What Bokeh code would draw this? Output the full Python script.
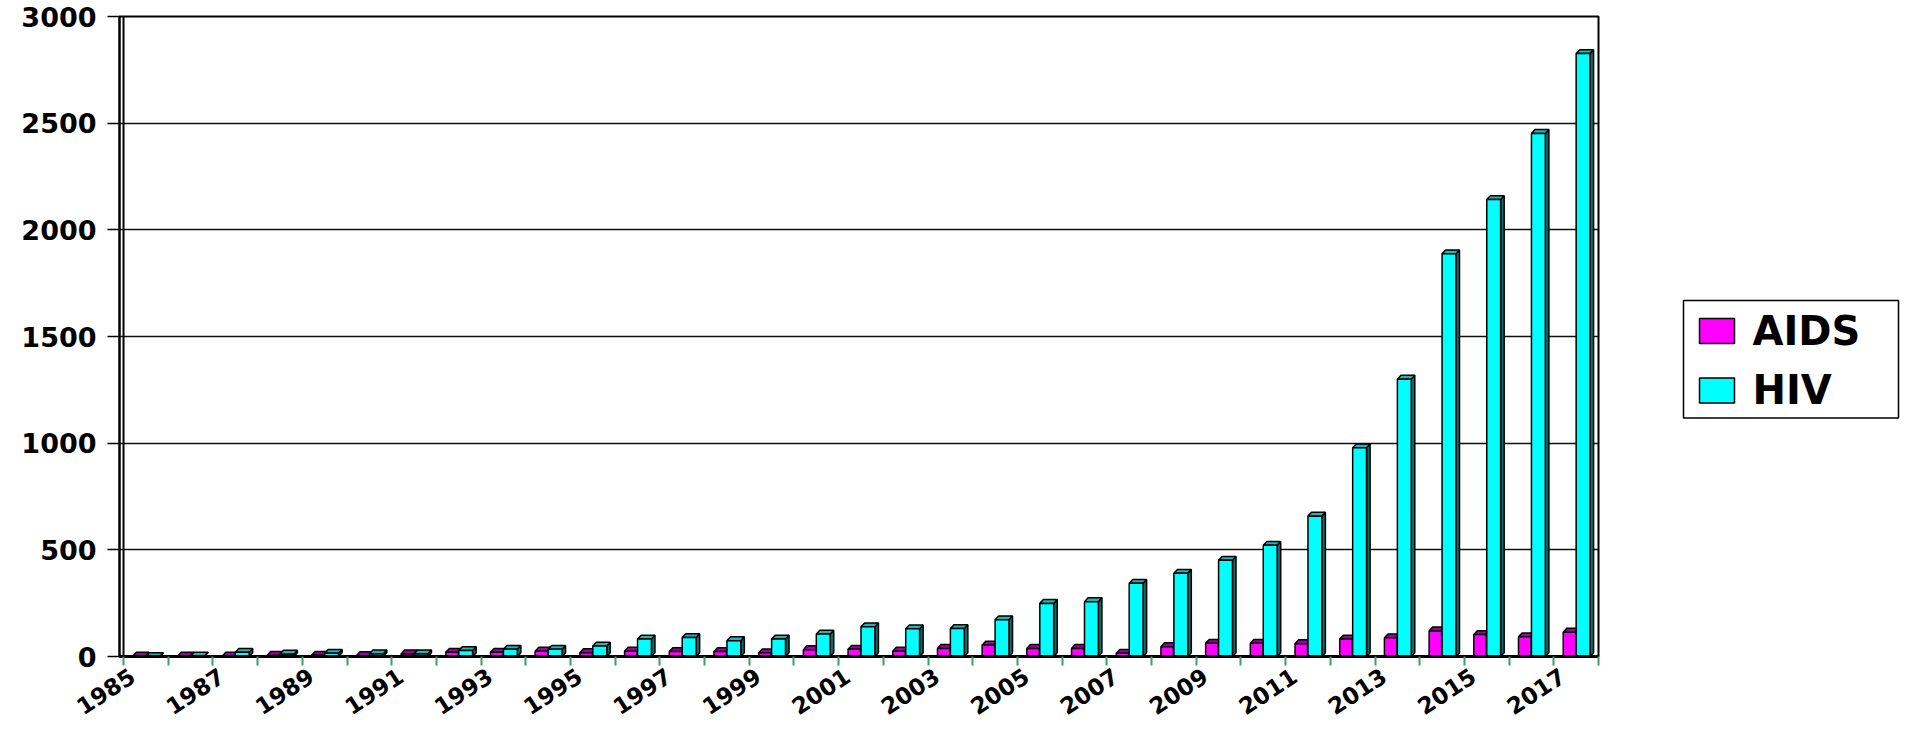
import numpy as np
from bokeh.plotting import figure
from bokeh.layouts import row
from bokeh.models import Range1d, FixedTicker, Span
from bokeh.core.properties import value
from bokeh.embed import file_html
from bokeh.resources import INLINE

years = list(range(1985, 2018))
aids = [2, 2, 2, 5, 6, 4, 12, 20, 20, 25, 18, 25, 23, 23, 17, 32, 34, 25, 38, 54,
        38, 38, 15, 46, 62, 62, 60, 82, 88, 120, 103, 92, 114]
hiv = [0, 2, 20, 11, 15, 12, 12, 28, 34, 34, 49, 82, 89, 74, 82, 105, 139, 130, 131, 172,
       249, 257, 343, 390, 451, 521, 658, 978, 1300, 1888, 2142, 2452, 2826]
y_ticks = [0, 500, 1000, 1500, 2000, 2500, 3000]
series_names = ["AIDS", "HIV"]

FONT = "DejaVu Sans"
H = 725
W_MAIN, W_LEG = 1600, 300
B_TOP, B_BOTTOM = 16, 62

MAG = ("#FF00FF", "#A000A0", "#700070")
CYA = ("#00FFFF", "#22B4B4", "#0D6B6B")

p = figure(width=W_MAIN, height=H, output_backend="svg", toolbar_location=None,
           x_range=Range1d(-0.59, 32.5), y_range=Range1d(0, 3000),
           min_border_left=119, min_border_right=2, min_border_top=B_TOP, min_border_bottom=B_BOTTOM)
p.background_fill_color = "white"
p.border_fill_color = "white"
p.outline_line_color = "black"
p.outline_line_width = 2

idx = np.arange(len(years))
BAR_W_A = 0.28
BAR_W_H = 0.31
DX = 0.08
DY = 18.0


def draw(values, x0, width, colors):
    face, cap, side = colors
    v = np.array(values, dtype=float)
    x1 = x0 + width
    side_xs = [[a, a + DX, a + DX, a] for a in x1]
    side_ys = [[0, DY, h + DY, h] for h in v]
    cap_xs = [[a, b, b + DX, a + DX] for a, b in zip(x0, x1)]
    cap_ys = [[h, h, h + DY, h + DY] for h in v]
    p.patches(side_xs, side_ys, fill_color=side, line_color="black", line_width=1.5)
    p.patches(cap_xs, cap_ys, fill_color=cap, line_color="black", line_width=1.5)
    return p.quad(left=x0, right=x1, bottom=0, top=v, fill_color=face,
                  line_color="black", line_width=1.5)


draw(aids, idx - 0.29, BAR_W_A, MAG)
draw(hiv, idx + 0.0, BAR_W_H, CYA)

p.add_layout(Span(location=-0.5, dimension="height", line_color="black", line_width=2))

# grid
p.xgrid.visible = False
p.ygrid.ticker = FixedTicker(ticks=y_ticks)
p.ygrid.grid_line_color = "#111111"
p.ygrid.grid_line_width = 1.5

# y axis
p.yaxis.ticker = FixedTicker(ticks=y_ticks)
p.yaxis.axis_line_color = "black"
p.yaxis.axis_line_width = 2
p.yaxis.major_tick_out = 12
p.yaxis.major_tick_in = 0
p.yaxis.major_tick_line_width = 1.5
p.yaxis.major_tick_line_color = "black"
p.yaxis.minor_tick_line_color = None
p.yaxis.major_label_standoff = 11
p.yaxis.major_label_text_font = FONT
p.yaxis.major_label_text_font_style = "bold"
p.yaxis.major_label_text_font_size = "27px"
p.yaxis.major_label_text_color = "black"

# x axis
label_pos = [float(i) - 0.3 for i in idx[::2]]
boundaries = [float(i) - 0.5 for i in range(len(years) + 1)]
p.xaxis.ticker = FixedTicker(ticks=label_pos, minor_ticks=boundaries)
p.xaxis.major_label_overrides = {pos: str(years[i]) for pos, i in zip(label_pos, idx[::2])}
p.xaxis.axis_line_color = "black"
p.xaxis.axis_line_width = 3
p.xaxis.major_tick_line_color = None
p.xaxis.major_tick_out = 0
p.xaxis.major_tick_in = 0
p.xaxis.minor_tick_line_color = "#3A9D6E"
p.xaxis.minor_tick_line_width = 2
p.xaxis.minor_tick_out = 9
p.xaxis.minor_tick_in = 0
p.xaxis.major_label_orientation = 0.58
p.xaxis.major_label_standoff = 8
p.xaxis.major_label_text_font = FONT
p.xaxis.major_label_text_font_style = "bold"
p.xaxis.major_label_text_font_size = "23px"
p.xaxis.major_label_text_color = "black"

# legend panel: a small figure in pixel units, same vertical borders as the plot
FH = H - B_TOP - B_BOTTOM
q = figure(width=W_LEG, height=H, output_backend="svg", toolbar_location=None,
           x_range=Range1d(0, W_LEG), y_range=Range1d(0, FH),
           min_border_left=0, min_border_right=0, min_border_top=B_TOP, min_border_bottom=B_BOTTOM)
q.axis.visible = False
q.grid.visible = False
q.outline_line_color = None
q.background_fill_color = "white"
q.border_fill_color = "white"
q.quad(left=[83], right=[298], bottom=[241], top=[360],
       fill_color="white", line_color="black", line_width=1.5)
row_y = [329, 269]
q.rect(x=[116.5, 116.5], y=row_y, width=35, height=25,
       width_units="screen", height_units="screen",
       fill_color=[MAG[0], CYA[0]], line_color="black", line_width=1.5)
q.text(x=[152, 152], y=row_y, text=series_names,
       text_font=value(FONT), text_font_style="bold", text_font_size="40px",
       text_color="black", text_baseline="middle", text_align="left")

layout = row(p, q, spacing=0)
open("out.html", "w").write(file_html(layout, INLINE))
